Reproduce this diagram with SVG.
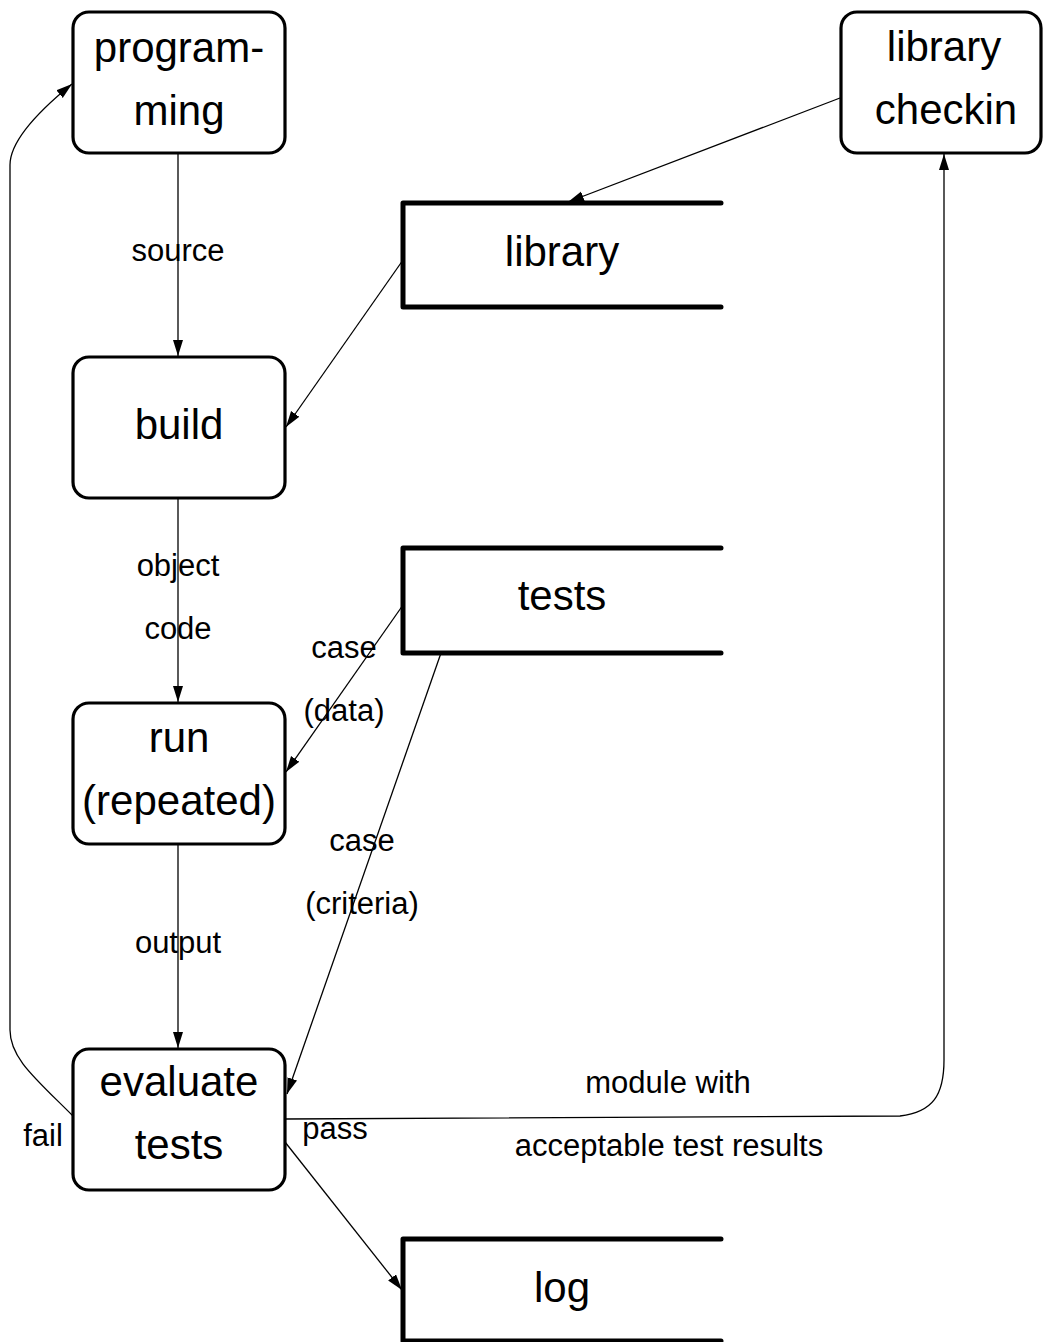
<svg xmlns="http://www.w3.org/2000/svg" width="1043" height="1342" viewBox="0 0 1043 1342">
<style>
.box{fill:#fff;stroke:#000;stroke-width:3.2}
.store{fill:none;stroke:#000;stroke-width:5;stroke-linecap:round;stroke-linejoin:round}
.nt{font-family:"Liberation Sans",Arial,sans-serif;font-size:42px;text-anchor:middle;fill:#000}
.lt{font-family:"Liberation Sans",Arial,sans-serif;font-size:31px;text-anchor:middle;fill:#000}
.edge{fill:none;stroke:#000;stroke-width:1.3;marker-end:url(#ah)}
</style>
<defs>
<marker id="ah" markerUnits="userSpaceOnUse" markerWidth="17" markerHeight="11" refX="16" refY="5" orient="auto">
<path d="M0,0 L16,5 L0,10 z" fill="#000"/>
</marker>
</defs>
<rect width="1043" height="1342" fill="#fff"/>
<g id="connectors">
<path class="edge" d="M178,153 L178,356"/>
<path class="edge" d="M840,98 L568,202"/>
<path class="edge" d="M403,260 L286,427"/>
<path class="edge" d="M178,498 L178,702"/>
<path class="edge" d="M403,605 L286,772"/>
<path class="edge" d="M441,653 L287,1094"/>
<path class="edge" d="M178,844 L178,1048"/>
<path class="edge" d="M73,1116 C35,1078 10,1058 10,1030 L10,165 C10,140 40,110 72,84"/>
<path class="edge" d="M285,1119 L900,1116 C933,1112 944,1095 944,1060 L944,154"/>
<path class="edge" d="M285,1142 L402,1290"/>
<text class="lt" x="178" y="261">source</text>
<text class="lt" x="178" y="576">object</text>
<text class="lt" x="178" y="639">code</text>
<text class="lt" x="344" y="658">case</text>
<text class="lt" x="344" y="721">(data)</text>
<text class="lt" x="362" y="851">case</text>
<text class="lt" x="362" y="914">(criteria)</text>
<text class="lt" x="178" y="953">output</text>
<text class="lt" x="668" y="1093">module with</text>
<text class="lt" x="669" y="1156">acceptable test results</text>
<text class="lt" x="335" y="1139">pass</text>
<text class="lt" x="43" y="1146">fail</text>
</g>
<g id="programming">
<rect class="box" x="73" y="12" width="212" height="141" rx="16"/>
<text class="nt" x="179" y="62">program-</text>
<text class="nt" x="179" y="125">ming</text>
</g>
<g id="library-checkin">
<rect class="box" x="841" y="12" width="200" height="141" rx="16"/>
<text class="nt" x="944" y="61">library</text>
<text class="nt" x="946" y="124">checkin</text>
</g>
<g id="library">
<path class="store" d="M721,203 L403,203 L403,307 L721,307"/>
<text class="nt" x="562" y="266">library</text>
</g>
<g id="build">
<rect class="box" x="73" y="357" width="212" height="141" rx="16"/>
<text class="nt" x="179" y="439">build</text>
</g>
<g id="tests">
<path class="store" d="M721,548 L403,548 L403,653 L721,653"/>
<text class="nt" x="562" y="610">tests</text>
</g>
<g id="run">
<rect class="box" x="73" y="703" width="212" height="141" rx="16"/>
<text class="nt" x="179" y="752">run</text>
<text class="nt" x="179" y="815">(repeated)</text>
</g>
<g id="evaluate-tests">
<rect class="box" x="73" y="1049" width="212" height="141" rx="16"/>
<text class="nt" x="179" y="1096">evaluate</text>
<text class="nt" x="179" y="1159">tests</text>
</g>
<g id="log">
<path class="store" d="M721,1239 L403,1239 L403,1341 L721,1341"/>
<text class="nt" x="562" y="1302">log</text>
</g>
</svg>
